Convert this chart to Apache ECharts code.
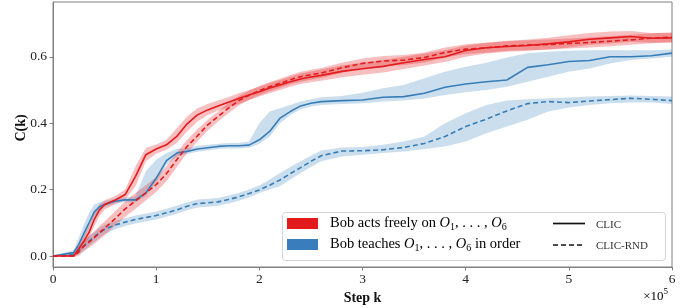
<!DOCTYPE html>
<html>
<head>
<meta charset="utf-8">
<script src="https://cdn.jsdelivr.net/npm/echarts@6/dist/echarts.min.js"></script>
<style>
  html, body { margin: 0; padding: 0; background: #fff; }
  #chart { width: 694px; height: 308px; }
</style>
</head>
<body>
<div id="chart"></div>
<script>
// step k, in units of 1e5
const steps = [0, 0.2, 0.25, 0.3, 0.35, 0.4, 0.45, 0.5, 0.6, 0.7, 0.8, 0.9, 1.0, 1.1, 1.2, 1.3, 1.4, 1.5, 1.6, 1.7, 1.8, 1.9, 2.0, 2.1, 2.2, 2.3, 2.4, 2.5, 2.6, 2.8, 3.0, 3.2, 3.4, 3.6, 3.8, 4.0, 4.2, 4.4, 4.6, 4.8, 5.0, 5.2, 5.4, 5.6, 5.8, 6.0]

// Bob acts freely, CLIC
const freeClic   = [0, 0.0, 0.022, 0.045, 0.072, 0.11, 0.138, 0.155, 0.168, 0.185, 0.24, 0.305, 0.322, 0.335, 0.36, 0.398, 0.425, 0.44, 0.452, 0.463, 0.474, 0.485, 0.495, 0.506, 0.515, 0.525, 0.533, 0.539, 0.544, 0.556, 0.564, 0.571, 0.582, 0.592, 0.600, 0.619, 0.627, 0.631, 0.634, 0.639, 0.645, 0.653, 0.657, 0.661, 0.656, 0.657]
const freeClicLo = [0, -0.003, 0.008, 0.03, 0.055, 0.09, 0.12, 0.14, 0.155, 0.17, 0.21, 0.285, 0.308, 0.32, 0.34, 0.375, 0.405, 0.425, 0.438, 0.448, 0.458, 0.47, 0.48, 0.49, 0.5, 0.51, 0.518, 0.523, 0.528, 0.538, 0.546, 0.553, 0.563, 0.574, 0.584, 0.6, 0.61, 0.615, 0.618, 0.622, 0.628, 0.636, 0.64, 0.645, 0.642, 0.643]
const freeClicHi = [0, 0.005, 0.035, 0.062, 0.09, 0.13, 0.155, 0.168, 0.18, 0.2, 0.27, 0.325, 0.336, 0.35, 0.385, 0.42, 0.445, 0.458, 0.468, 0.478, 0.49, 0.5, 0.51, 0.52, 0.53, 0.54, 0.55, 0.556, 0.562, 0.574, 0.583, 0.59, 0.6, 0.61, 0.62, 0.634, 0.642, 0.647, 0.652, 0.657, 0.665, 0.672, 0.676, 0.678, 0.672, 0.672]

// Bob acts freely, CLIC-RND
const freeRnd   = [0, 0, 0.012, 0.03, 0.042, 0.055, 0.07, 0.083, 0.112, 0.142, 0.166, 0.19, 0.215, 0.248, 0.29, 0.33, 0.362, 0.395, 0.42, 0.445, 0.468, 0.484, 0.498, 0.51, 0.52, 0.531, 0.54, 0.546, 0.551, 0.567, 0.58, 0.587, 0.59, 0.598, 0.613, 0.623, 0.627, 0.633, 0.635, 0.637, 0.640, 0.643, 0.647, 0.651, 0.656, 0.659]
const freeRndLo = [0, -0.003, 0.0, 0.015, 0.025, 0.037, 0.05, 0.062, 0.09, 0.118, 0.142, 0.167, 0.193, 0.225, 0.268, 0.31, 0.345, 0.378, 0.405, 0.43, 0.453, 0.47, 0.484, 0.496, 0.506, 0.517, 0.525, 0.531, 0.536, 0.552, 0.565, 0.572, 0.575, 0.583, 0.598, 0.608, 0.612, 0.618, 0.62, 0.622, 0.625, 0.628, 0.632, 0.636, 0.641, 0.644]
const freeRndHi = [0, 0.004, 0.024, 0.045, 0.06, 0.073, 0.09, 0.104, 0.134, 0.165, 0.19, 0.213, 0.237, 0.27, 0.312, 0.35, 0.382, 0.41, 0.435, 0.46, 0.482, 0.498, 0.512, 0.524, 0.534, 0.545, 0.555, 0.561, 0.566, 0.582, 0.595, 0.602, 0.605, 0.613, 0.628, 0.638, 0.642, 0.648, 0.65, 0.652, 0.655, 0.658, 0.662, 0.666, 0.671, 0.674]

// Bob teaches in order, CLIC
const teachClic   = [0, 0.01, 0.035, 0.068, 0.1, 0.133, 0.148, 0.155, 0.165, 0.169, 0.169, 0.19, 0.234, 0.287, 0.31, 0.315, 0.322, 0.326, 0.33, 0.332, 0.332, 0.334, 0.35, 0.375, 0.415, 0.435, 0.452, 0.46, 0.465, 0.468, 0.47, 0.478, 0.48, 0.49, 0.508, 0.518, 0.525, 0.53, 0.568, 0.576, 0.586, 0.589, 0.60, 0.60, 0.603, 0.611]
const teachClicLo = [0, 0.002, 0.02, 0.05, 0.085, 0.118, 0.138, 0.147, 0.158, 0.162, 0.162, 0.18, 0.222, 0.275, 0.3, 0.307, 0.314, 0.318, 0.322, 0.324, 0.324, 0.326, 0.338, 0.36, 0.4, 0.425, 0.442, 0.45, 0.455, 0.458, 0.46, 0.465, 0.468, 0.474, 0.485, 0.493, 0.5, 0.51, 0.525, 0.54, 0.555, 0.565, 0.58, 0.59, 0.595, 0.60]
const teachClicHi = [0, 0.018, 0.055, 0.095, 0.13, 0.155, 0.162, 0.165, 0.172, 0.176, 0.18, 0.255, 0.29, 0.31, 0.322, 0.325, 0.332, 0.335, 0.338, 0.34, 0.34, 0.345, 0.40, 0.435, 0.445, 0.455, 0.465, 0.472, 0.478, 0.482, 0.492, 0.505, 0.515, 0.535, 0.555, 0.57, 0.582, 0.598, 0.611, 0.615, 0.618, 0.62, 0.62, 0.62, 0.62, 0.622]

// Bob teaches in order, CLIC-RND
const teachRnd   = [0, 0.005, 0.018, 0.03, 0.045, 0.058, 0.07, 0.08, 0.093, 0.102, 0.11, 0.116, 0.122, 0.13, 0.139, 0.15, 0.158, 0.16, 0.163, 0.17, 0.178, 0.188, 0.199, 0.213, 0.229, 0.248, 0.266, 0.285, 0.302, 0.316, 0.317, 0.32, 0.327, 0.339, 0.36, 0.39, 0.412, 0.437, 0.459, 0.465, 0.462, 0.467, 0.471, 0.475, 0.472, 0.468]
const teachRndLo = [0, -0.002, 0.006, 0.016, 0.03, 0.043, 0.055, 0.066, 0.08, 0.09, 0.098, 0.104, 0.11, 0.118, 0.127, 0.138, 0.146, 0.148, 0.151, 0.158, 0.166, 0.176, 0.19, 0.2, 0.21, 0.23, 0.25, 0.268, 0.285, 0.3, 0.305, 0.31, 0.315, 0.322, 0.33, 0.345, 0.37, 0.39, 0.41, 0.435, 0.447, 0.455, 0.46, 0.462, 0.462, 0.458]
const teachRndHi = [0, 0.012, 0.03, 0.044, 0.06, 0.073, 0.085, 0.094, 0.106, 0.114, 0.122, 0.128, 0.134, 0.142, 0.151, 0.162, 0.17, 0.172, 0.175, 0.182, 0.19, 0.2, 0.212, 0.23, 0.25, 0.268, 0.285, 0.302, 0.318, 0.327, 0.328, 0.335, 0.345, 0.36, 0.40, 0.43, 0.455, 0.468, 0.472, 0.475, 0.477, 0.48, 0.482, 0.483, 0.482, 0.48]

const xTicks = [0, 1, 2, 3, 4, 5, 6]
const yTicks = [0, 0.2, 0.4, 0.6]

const RED = '#e41a1c', BLUE = '#377eb8'
const FONT = 'Liberation Serif'

function pairs(ys){ return steps.map((x,i)=>[x, ys[i]]) }

function band(name, lo, hi, fill){
  return {
    name: name, type: 'custom', z: 1, clip: true, silent: true,
    data: steps.map((x,i)=>[x, lo[i], hi[i]]),
    encode: {x: 0, y: [1, 2]},
    renderItem: function(params, api){
      if(params.dataIndex !== 0) return null
      let pts = []
      steps.forEach((x,i)=>pts.push(api.coord([x, hi[i]])))
      for(let i = steps.length-1; i >= 0; i--) pts.push(api.coord([steps[i], lo[i]]))
      return {type: 'polygon', shape: {points: pts}, style: {fill: fill}}
    }
  }
}

function line(name, ys, color, dashed){
  return {
    name: name, type: 'line', z: 3, showSymbol: false, silent: true,
    data: pairs(ys),
    lineStyle: {color: color, width: 1.6, type: dashed ? [5, 3] : 'solid'}
  }
}

var myChart = echarts.init(document.getElementById('chart'), null, {renderer: 'canvas'})

const rich = {
  n: {fontFamily: FONT, fontSize: 14.5, color: '#333', lineHeight: 18},
  i: {fontFamily: FONT, fontSize: 14.5, fontStyle: 'italic', color: '#333', lineHeight: 18},
  s: {fontFamily: FONT, fontSize: 10, color: '#333', verticalAlign: 'bottom', lineHeight: 14}
}

var option = {
  animation: false,
  grid: {left: 53, right: 22, top: 2, bottom: 41, show: true, borderColor: '#808080', borderWidth: 1,
    containLabel: false, outerBoundsMode: 'none'},
  xAxis: {
    type: 'value', min: 0, max: 6,
    name: 'Step k', nameLocation: 'middle', nameGap: 24,
    nameTextStyle: {fontFamily: FONT, fontSize: 14, fontWeight: 'bold', color: '#111'},
    axisLine: {show: true, onZero: false, lineStyle: {color: '#808080'}},
    axisTick: {show: true, length: 3.5, lineStyle: {color: '#808080'}, customValues: xTicks},
    axisLabel: {fontFamily: FONT, fontSize: 13.5, color: '#222', margin: 5, customValues: xTicks,
      formatter: v=>String(v)},
    splitLine: {show: false}
  },
  yAxis: {
    type: 'value', min: -0.0332, max: 0.765,
    axisLine: {show: true, onZero: false, lineStyle: {color: '#808080'}},
    axisTick: {show: true, length: 3.5, lineStyle: {color: '#808080'}, customValues: yTicks},
    axisLabel: {fontFamily: FONT, fontSize: 13.5, color: '#222', margin: 6, customValues: yTicks,
      formatter: v=>v.toFixed(1)},
    splitLine: {show: false}
  },
  series: [
    band('teachRndBand', teachRndLo, teachRndHi, 'rgba(55,126,184,0.26)'),
    band('teachClicBand', teachClicLo, teachClicHi, 'rgba(55,126,184,0.26)'),
    band('freeRndBand', freeRndLo, freeRndHi, 'rgba(228,26,28,0.28)'),
    band('freeClicBand', freeClicLo, freeClicHi, 'rgba(228,26,28,0.28)'),
    line('teachRnd', teachRnd, BLUE, true),
    line('teachClic', teachClic, BLUE, false),
    line('freeRnd', freeRnd, RED, true),
    line('freeClic', freeClic, RED, false)
  ],
  graphic: [
    // y axis title
    {type: 'text', z: 11, x: 21, y: 128, rotation: Math.PI/2, style: {
      text: 'C(k)', font: 'bold 14px ' + FONT, fill: '#111', align: 'center', verticalAlign: 'middle'}},
    // legend box
    {type: 'rect', z: 10, shape: {x: 282.5, y: 212.5, width: 383, height: 48, r: 3},
      style: {fill: 'rgba(255,255,255,0.85)', stroke: '#d4d4d4', lineWidth: 1}},
    {type: 'rect', z: 11, shape: {x: 287, y: 218, width: 31, height: 11}, style: {fill: '#e31a1c'}},
    {type: 'rect', z: 11, shape: {x: 287, y: 239, width: 31, height: 11}, style: {fill: '#3a7dbd'}},
    {type: 'text', z: 11, x: 330, y: 223, style: {
      text: '{n|Bob acts freely on }{i|O}{s|1}{n|, . . . , }{i|O}{s|6}', rich: rich, verticalAlign: 'middle'}},
    {type: 'text', z: 11, x: 330, y: 244, style: {
      text: '{n|Bob teaches }{i|O}{s|1}{n|, . . . , }{i|O}{s|6}{n| in order}', rich: rich, verticalAlign: 'middle'}},
    {type: 'line', z: 11, shape: {x1: 553, y1: 223.5, x2: 585, y2: 223.5}, style: {stroke: '#111', lineWidth: 1.7}},
    {type: 'line', z: 11, shape: {x1: 553, y1: 245, x2: 585, y2: 245}, style: {stroke: '#111', lineWidth: 1.7, lineDash: [5, 3]}},
    {type: 'text', z: 11, x: 596, y: 225, style: {text: 'CLIC', font: '11px ' + FONT, fill: '#333', verticalAlign: 'middle'}},
    {type: 'text', z: 11, x: 596, y: 246, style: {text: 'CLIC-RND', font: '11px ' + FONT, fill: '#333', verticalAlign: 'middle'}},
    // axis multiplier
    {type: 'text', z: 11, right: 26, top: 287, style: {
      text: '{n|×10}{p|5}', rich: {
        n: {fontFamily: FONT, fontSize: 13, color: '#222', lineHeight: 16, verticalAlign: 'bottom'},
        p: {fontFamily: FONT, fontSize: 9, color: '#222', verticalAlign: 'top', lineHeight: 16}
      }}}
  ]
}
myChart.setOption(option)
</script>
</body>
</html>
